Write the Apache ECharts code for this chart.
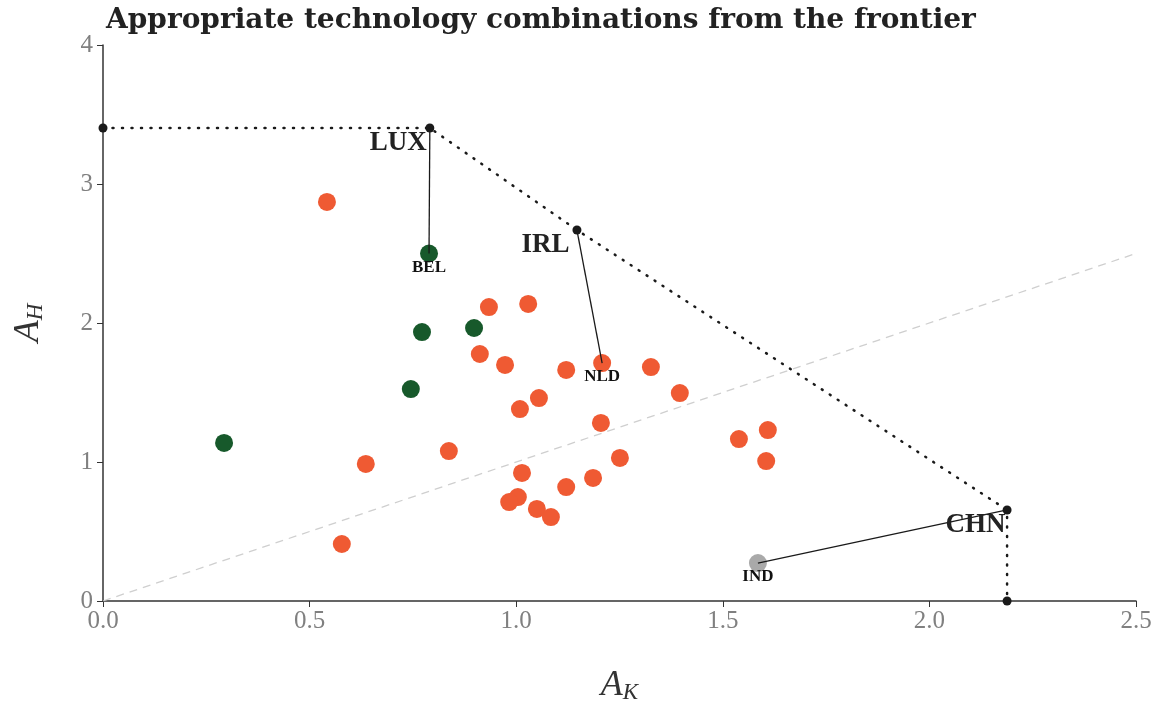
<!DOCTYPE html>
<html><head><meta charset="utf-8">
<script src="https://cdn.jsdelivr.net/npm/echarts@6/dist/echarts.min.js"></script>
<style>html,body{margin:0;padding:0;background:#fff}#c{width:1162px;height:704px}</style>
</head><body><div id="c"></div>
<script>
// Data (A_K, A_H)
const greenPts = [[0.789,2.50],[0.772,1.935],[0.898,1.964],[0.745,1.525],[0.293,1.137]];
const orangePts = [[0.542,2.871],[0.934,2.115],[1.029,2.137],[0.912,1.777],[0.973,1.698],[1.208,1.712],
  [1.121,1.662],[1.326,1.683],[1.396,1.496],[1.055,1.460],[1.009,1.381],[1.205,1.281],[1.539,1.165],
  [1.609,1.230],[1.605,1.007],[1.251,1.029],[1.014,0.921],[0.636,0.986],[0.837,1.079],[1.121,0.820],
  [1.186,0.885],[1.004,0.748],[0.983,0.712],[1.050,0.662],[1.084,0.604],[0.578,0.410]];
const greyPts = [[1.585,0.273]];
const frontier = [[0,3.403],[0.791,3.403],[1.147,2.669],[2.188,0.655],[2.188,0]];
const frontierNames = ['', 'LUX', 'IRL', 'CHN', ''];
const connectors = [ [[0.791,3.403],[0.789,2.50]], [[1.147,2.669],[1.208,1.712]], [[2.188,0.655],[1.585,0.273]] ];
const connectorNames = ['BEL','NLD','IND'];
const diagonal = [[0,0],[2.5,2.5]];
const xTicks = [0,0.5,1.0,1.5,2.0,2.5];
const yTicks = [0,1,2,3,4];

const serif = "'Liberation Serif','DejaVu Serif',serif";
const chart = echarts.init(document.getElementById('c'));

const bigLabel = {show:true, formatter:p=>p.data.name||'', position:[-27,19.5], align:'center', verticalAlign:'middle',
  fontFamily:serif, fontWeight:'bold', fontSize:27, color:'#222'};
const smallLabel = (dy)=>({show:true, formatter:p=>p.data.name||'', position:[9,9+dy], align:'center', verticalAlign:'middle',
  fontFamily:serif, fontWeight:'bold', fontSize:17, color:'#111', opacity:1});

const series = [
  {type:'line', data:diagonal, symbol:'none', silent:true, z:1,
   lineStyle:{color:'#cfcfcf', width:1.3, type:[8,6]}},
  {type:'scatter', data:orangePts, symbolSize:18, itemStyle:{color:'#ef5a33', opacity:1}, z:2},
  {type:'scatter', data:greenPts, symbolSize:18, itemStyle:{color:'#17592b', opacity:1}, z:2},
  {type:'scatter', data:greyPts, symbolSize:18, itemStyle:{color:'#a9a9a9', opacity:1}, z:2},
];
connectors.forEach((c,i)=>{
  series.push({type:'line', data:c, symbol:'none', z:3, lineStyle:{color:'#1a1a1a', width:1.3}});
  series.push({type:'scatter', data:[{value:c[1], name:connectorNames[i]}], symbolSize:18,
    itemStyle:{color:'rgba(0,0,0,0)', opacity:1}, label:smallLabel(14), z:4});
});
series.push({type:'line', data:frontier.map((p,i)=>({value:p, name:frontierNames[i]})), symbol:'circle', symbolSize:9,
  itemStyle:{color:'#1a1a1a'}, lineStyle:{color:'#1a1a1a', width:2.5, type:[1,8.5], cap:'round'},
  label:bigLabel, z:5, clip:false});

chart.setOption({
  animation:false,
  title:{text:'Appropriate technology combinations from the frontier', left:101, top:2,
    textStyle:{fontFamily:"'DejaVu Serif',serif", fontWeight:'bold', fontSize:28, color:'#222'}},
  grid:{left:103, right:26, top:45, bottom:103, outerBoundsMode:'none', containLabel:false},
  xAxis:{type:'value', min:0, max:2.5, interval:0.5,
    name:'{a|A}{s|K}', nameLocation:'middle', nameGap:66,
    nameTextStyle:{rich:{a:{fontFamily:serif, fontStyle:'italic', fontSize:36, color:'#333'},
      s:{fontFamily:serif, fontStyle:'italic', fontSize:23, color:'#333', verticalAlign:'bottom', padding:[14,0,0,0]}}},
    axisLine:{lineStyle:{color:'#333', width:1.5}}, axisTick:{show:true, length:6, lineStyle:{color:'#333'}},
    axisLabel:{fontFamily:serif, fontSize:25, color:'#808080', formatter:v=>v.toFixed(1), margin:8},
    splitLine:{show:false}},
  yAxis:{type:'value', min:0, max:4, interval:1,
    name:'{a|A}{s|H}', nameLocation:'middle', nameGap:56, nameRotate:90,
    nameTextStyle:{rich:{a:{fontFamily:serif, fontStyle:'italic', fontSize:36, color:'#333'},
      s:{fontFamily:serif, fontStyle:'italic', fontSize:23, color:'#333', verticalAlign:'bottom', padding:[14,0,0,0]}}},
    axisLine:{show:true, lineStyle:{color:'#333', width:1.5}}, axisTick:{show:true, length:6, lineStyle:{color:'#333'}},
    axisLabel:{fontFamily:serif, fontSize:25, color:'#808080', margin:10},
    splitLine:{show:false}},
  series
});
</script></body></html>
